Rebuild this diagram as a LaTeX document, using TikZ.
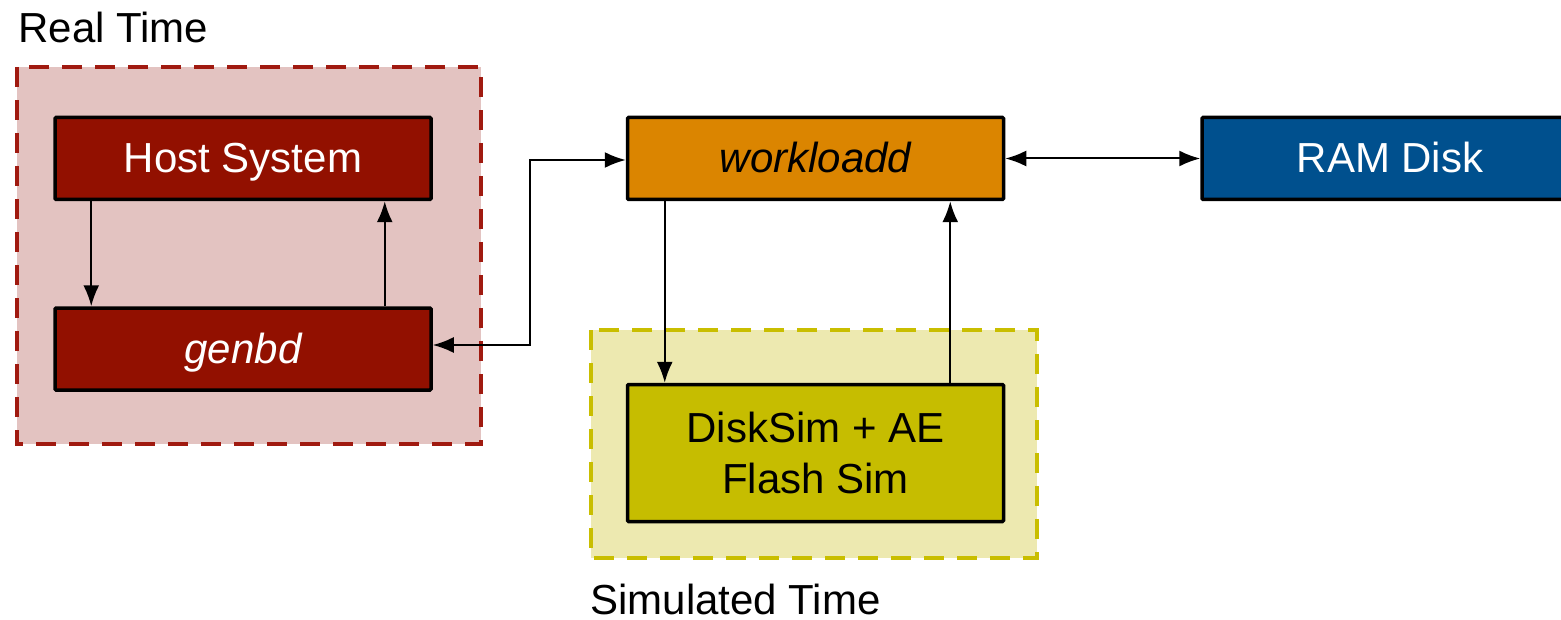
\documentclass[tikz,border=0pt]{standalone}
\usepackage{fontspec}
\setmainfont{Liberation Sans}
\usetikzlibrary{arrows.meta}
\definecolor{hostred}{HTML}{921000}
\definecolor{regred}{HTML}{E3C3C1}
\definecolor{regredline}{HTML}{A01A10}
\definecolor{wlorange}{HTML}{DB8500}
\definecolor{ramblue}{HTML}{00508E}
\definecolor{simolive}{HTML}{C6BD00}
\definecolor{regyel}{HTML}{EDE9B0}
\definecolor{regyelline}{HTML}{C9BE00}
\tikzset{
  box/.style={draw=black, line width=1.75pt, rounded corners=0.6pt, minimum width=188pt, minimum height=41pt, inner sep=0pt, align=center, font=\fontsize{21}{25.5}\selectfont},
  oneline/.style={text height=14.5pt, text depth=0pt},
  region/.style={line width=2pt, dash pattern=on 10pt off 6.5pt},
  arr/.style={line width=1pt, -{Latex[length=10.5pt,width=8pt]}},
  darr/.style={line width=1pt, {Latex[length=10.5pt,width=8pt]}-{Latex[length=10.5pt,width=8pt]}},
  lbl/.style={anchor=base west, inner sep=0pt, text depth=0pt, font=\fontsize{21}{24}\selectfont}
}
\begin{document}
\begin{tikzpicture}[x=0.5pt,y=-0.5pt]
\useasboundingbox (0,0) rectangle (1561,620);
\clip (0,0) rectangle (1561,620);
% regions
\draw[region, fill=regred, draw=regredline] (17,67) rectangle (481,444);
\draw[region, fill=regyel, draw=regyelline] (591,330) rectangle (1037,558);
% labels
\node[lbl] (rt) at (18,43) {Real Time};
\node[lbl] (st) at (590,614) {Simulated Time};
% boxes
\node[box, oneline, fill=hostred, text=white] (host) at (243,158.5) {Host System};
\node[box, oneline, fill=hostred, text=white] (genbd) at (243,349) {\itshape genbd};
\node[box, oneline, fill=wlorange, text=black] (wl) at (815.5,158.5) {\itshape workloadd};
\node[box, oneline, fill=ramblue, text=white] (ram) at (1390,158.5) {RAM Disk};
\node[box, fill=simolive, text=black, minimum height=68.5pt] (sim) at (815.5,453) {DiskSim + AE\\Flash Sim};
% connectors
\draw[arr] ([xshift=19pt]host.south west) -- ([xshift=19pt]genbd.north west);
\draw[arr] ([xshift=-24pt]genbd.north east) -- ([xshift=-24pt]host.south east);
\draw[darr] ([yshift=2pt]genbd.east) -- ++(97,0) |- ([yshift=-0.75pt]wl.west);
\draw[darr] (wl.east) -- (ram.west);
\draw[arr] ([xshift=19.5pt]wl.south west) -- ([xshift=19.5pt]sim.north west);
\draw[arr] ([xshift=-27.5pt]sim.north east) -- ([xshift=-27.5pt]wl.south east);
\end{tikzpicture}
\end{document}
